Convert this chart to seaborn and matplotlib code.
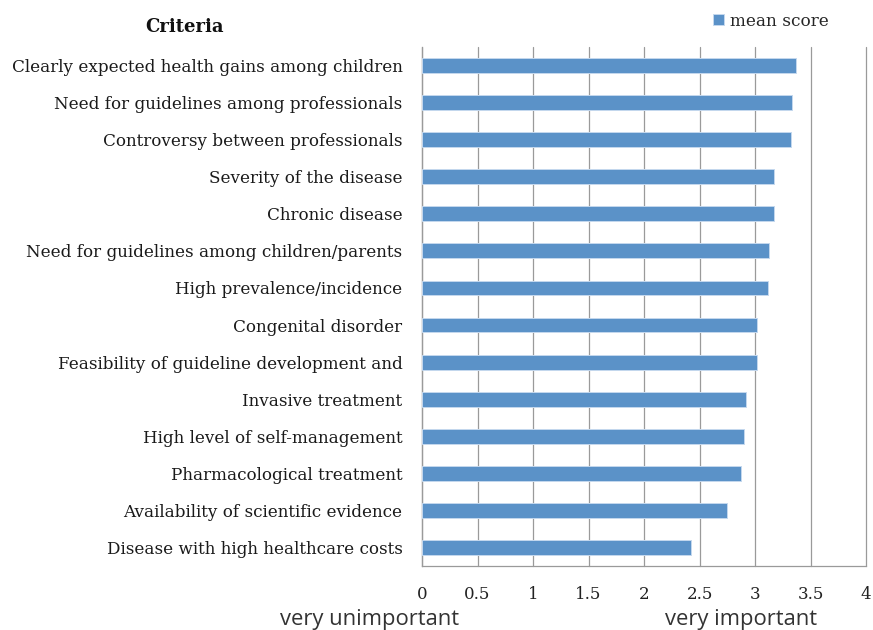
import matplotlib
matplotlib.use("Agg")
import matplotlib.pyplot as plt
from matplotlib.ticker import FixedLocator, NullFormatter
import seaborn as sns
import pandas as pd
import numpy as np

criteria = [
    "Clearly expected health gains among children",
    "Need for guidelines among professionals",
    "Controversy between professionals",
    "Severity of the disease",
    "Chronic disease",
    "Need for guidelines among children/parents",
    "High prevalence/incidence",
    "Congenital disorder",
    "Feasibility of guideline development and",
    "Invasive treatment",
    "High level of self-management",
    "Pharmacological treatment",
    "Availability of scientific evidence",
    "Disease with high healthcare costs",
]
mean_score = [3.37, 3.33, 3.32, 3.17, 3.17, 3.13, 3.12, 3.02, 3.02, 2.92, 2.90, 2.87, 2.75, 2.42]
x_ticks = [0, 0.5, 1, 1.5, 2, 2.5, 3, 3.5, 4]

df = pd.DataFrame({"Criteria": criteria, "mean score": mean_score})

sns.set_theme(style="white")
plt.rcParams["font.family"] = ["DejaVu Serif"]

fig = plt.figure(figsize=(8.73, 6.30), dpi=100)
ax = fig.add_axes([422 / 873, 1 - 566 / 630, 444 / 873, 519 / 630])

bar_color = "#5B92C8"
sns.barplot(data=df, y="Criteria", x="mean score", orient="h", ax=ax,
            color=bar_color, width=0.4, saturation=1,
            edgecolor="#C4D8EE", linewidth=0.7, label="mean score", zorder=3)

ax.set_xlim(0, 4)
ax.set_ylim(len(criteria) - 0.5, -0.5)
ax.xaxis.set_major_locator(FixedLocator(x_ticks))
ax.set_xticklabels([f"{t:g}" for t in x_ticks], fontsize=12, color="#222222")
ax.grid(axis="x", color="#9A9A9A", linewidth=0.9, zorder=0)
for gl in ax.get_xgridlines():
    gl.set_clip_on(False)
ax.grid(axis="y", visible=False)
ax.tick_params(axis="x", length=0, pad=14.5)

# category labels, with separator ticks between categories
ax.set_yticks(range(len(criteria)))
ax.set_yticklabels(criteria, fontsize=12.1, color="#1a1a1a")
ax.tick_params(axis="y", which="major", length=0, pad=14)
ax.yaxis.set_minor_locator(FixedLocator(np.arange(-0.5, len(criteria), 1.0)))
ax.yaxis.set_minor_formatter(NullFormatter())
ax.tick_params(axis="y", which="minor", length=5, width=0.9, color="#9A9A9A", direction="out")

for side in ["top", "right"]:
    ax.spines[side].set_visible(False)
for side in ["left", "bottom"]:
    ax.spines[side].set_color("#9A9A9A")
    ax.spines[side].set_linewidth(0.9)

ax.set_xlabel("")
ax.set_ylabel("")

fig.text(185 / 873, 1 - 27 / 630, "Criteria", fontsize=13, fontweight="bold",
         ha="center", va="center", color="#111111")

fig.text(370 / 873, 1 - 620 / 630, "very unimportant", fontsize=15.8,
         ha="center", va="center", color="#333333", family=["Open Sans", "DejaVu Sans"])
fig.text(741 / 873, 1 - 620 / 630, "very important", fontsize=15.8,
         ha="center", va="center", color="#333333", family=["Open Sans", "DejaVu Sans"])

leg = ax.legend(loc="center left", bbox_to_anchor=(705 / 873, 1 - 21 / 630),
                bbox_transform=fig.transFigure, frameon=False, fontsize=12.2,
                handlelength=0.6, handleheight=0.6, handletextpad=0.35, borderpad=0)

fig.savefig("out.png", dpi=100)
